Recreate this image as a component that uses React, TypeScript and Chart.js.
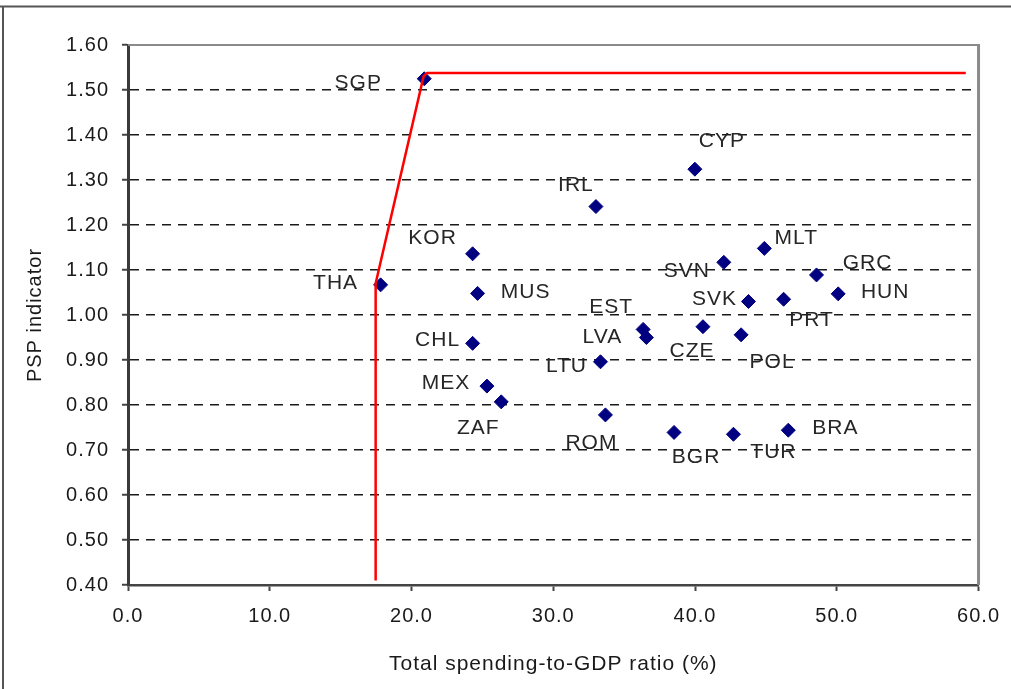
import React, { useEffect, useRef } from 'react';
import { Chart, registerables } from 'chart.js';

Chart.register(...registerables);

// ---- Data ----
const countries = ['SGP', 'THA', 'CYP', 'IRL', 'KOR', 'MUS', 'CHL', 'MEX', 'ZAF', 'LTU', 'ROM', 'BGR', 'EST', 'LVA', 'MLT', 'SVN', 'GRC', 'HUN', 'SVK', 'PRT', 'CZE', 'POL', 'BRA', 'TUR'];
const spendingRatio = [20.9, 17.82, 39.99, 33.01, 24.31, 24.66, 24.31, 25.32, 26.33, 33.33, 33.68, 38.52, 36.34, 36.57, 44.89, 42.03, 48.57, 50.1, 43.77, 46.25, 40.56, 43.25, 46.58, 42.71];
const pspIndicator = [1.525, 1.067, 1.324, 1.241, 1.136, 1.048, 0.937, 0.842, 0.807, 0.896, 0.778, 0.739, 0.968, 0.95, 1.148, 1.117, 1.089, 1.047, 1.03, 1.035, 0.974, 0.956, 0.744, 0.735];

const frontierX = [17.47, 17.47, 20.85, 21.1, 59.1];
const frontierY = [0.41, 1.07, 1.53, 1.538, 1.538];

const xTitle = 'Total spending-to-GDP ratio (%)';
const yTitle = 'PSP indicator';

// label placement (pixel offsets of label centre from marker)
const labelOffsets: Record<string, [number, number]> = {
  SGP: [-66, 4], THA: [-45, -2], CYP: [27, -28], IRL: [-20, -21], KOR: [-40, -16],
  MUS: [48, -1], CHL: [-35, -3], MEX: [-41, -3], ZAF: [-23, 26], LTU: [-34, 4],
  ROM: [-14, 28], BGR: [22, 25], EST: [-32, -22], LVA: [-44, 0], MLT: [32, -10],
  SVN: [-37, 9], GRC: [51, -12], HUN: [47, -2], SVK: [-34, -2], PRT: [28, 21],
  CZE: [-11, 25], POL: [31, 27], BRA: [47, -2], TUR: [40, 18],
};

const FONT = "'Liberation Sans', Arial, Helvetica, sans-serif";
const TEXT = '#1a1a1a';

const spacingPlugin = {
  id: 'spacing',
  beforeDraw(chart: any) {
    chart.ctx.letterSpacing = '1px';
  },
  afterDraw(chart: any) {
    chart.ctx.letterSpacing = '0px';
  },
};

const framePlugin = {
  id: 'frame',
  beforeDatasetsDraw(chart: any) {
    const { ctx, chartArea, width, height } = chart;
    ctx.save();
    ctx.setLineDash([]);
    // outer picture border
    ctx.strokeStyle = '#555555';
    ctx.lineWidth = 2;
    ctx.beginPath();
    ctx.moveTo(0, 6.5);
    ctx.lineTo(width, 6.5);
    ctx.moveTo(3, 6.5);
    ctx.lineTo(3, height);
    ctx.stroke();
    // plot frame top / right
    ctx.strokeStyle = '#8a8a8a';
    ctx.lineWidth = 2;
    ctx.beginPath();
    ctx.moveTo(chartArea.left, chartArea.top);
    ctx.lineTo(chartArea.right, chartArea.top);
    ctx.stroke();
    ctx.lineWidth = 3;
    ctx.beginPath();
    ctx.moveTo(chartArea.right, chartArea.top - 1);
    ctx.lineTo(chartArea.right, chartArea.bottom);
    ctx.stroke();
    ctx.restore();
  },
};

const labelPlugin = {
  id: 'pointLabels',
  afterDatasetsDraw(chart: any) {
    const { ctx } = chart;
    const meta = chart.getDatasetMeta(1);
    ctx.save();
    ctx.font = `21px ${FONT}`;
    ctx.fillStyle = '#262626';
    ctx.textAlign = 'center';
    ctx.textBaseline = 'middle';
    meta.data.forEach((el: any, i: number) => {
      const name = countries[i];
      const off = labelOffsets[name] || [0, -15];
      ctx.fillText(name, el.x + off[0], el.y + off[1]);
    });
    ctx.restore();
  },
};

export default function App() {
  const canvasRef = useRef<HTMLCanvasElement | null>(null);

  useEffect(() => {
    const canvas = canvasRef.current;
    if (!canvas) return;
    const chart = new Chart(canvas, {
      type: 'scatter',
      data: {
        datasets: [
          {
            type: 'line',
            label: 'Frontier',
            data: frontierX.map((x, i) => ({ x, y: frontierY[i] })),
            borderColor: '#ff0000',
            borderWidth: 2.5,
            pointRadius: 0,
            fill: false,
            tension: 0,
            order: 0,
          } as any,
          {
            label: 'Countries',
            data: spendingRatio.map((x, i) => ({ x, y: pspIndicator[i] })),
            pointStyle: 'rectRot',
            pointRadius: 7,
            backgroundColor: '#000080',
            borderColor: '#000080',
            borderWidth: 1,
            order: 1,
          },
        ],
      },
      options: {
        animation: false,
        responsive: false,
        events: [],
        layout: { padding: { left: 0, right: 30, top: 45, bottom: 0 } },
        plugins: {
          legend: { display: false },
          tooltip: { enabled: false },
          title: { display: false },
        },
        scales: {
          x: {
            type: 'linear',
            min: 0,
            max: 60,
            ticks: {
              stepSize: 10,
              callback: (v: any) => Number(v).toFixed(1),
              font: { family: FONT, size: 20 },
              color: TEXT,
              padding: 13,
              maxRotation: 0,
            },
            grid: {
              drawOnChartArea: false,
              drawTicks: true,
              tickLength: 6,
              tickColor: '#444444',
              tickWidth: 2,
            },
            border: { color: '#444444', width: 2.5 },
            title: {
              display: true,
              text: xTitle,
              font: { family: FONT, size: 21 },
              color: TEXT,
              padding: { top: 0, bottom: 12 },
            },
            afterFit: (s: any) => {
              s.height = 104;
            },
          },
          y: {
            type: 'linear',
            min: 0.4,
            max: 1.6,
            ticks: {
              stepSize: 0.1,
              callback: (v: any) => Number(v).toFixed(2),
              font: { family: FONT, size: 20 },
              color: TEXT,
              padding: 13,
            },
            grid: {
              color: (c: any) => {
                const v = c.tick ? c.tick.value : 0;
                return v < 0.45 || v > 1.55 ? 'rgba(0,0,0,0)' : '#1a1a1a';
              },
              lineWidth: 1.5,
              tickLength: 6,
              tickColor: '#444444',
              tickWidth: 2,
            },
            border: { dash: [9, 7], color: '#3a3a3a', width: 3 },
            title: {
              display: true,
              text: yTitle,
              font: { family: FONT, size: 20 },
              color: TEXT,
              padding: { top: 23, bottom: 0 },
            },
            afterFit: (s: any) => {
              s.width = 128;
            },
          },
        },
      },
      plugins: [spacingPlugin, framePlugin, labelPlugin],
    });
    return () => chart.destroy();
  }, []);

  return (
    <div style={{ position: 'absolute', left: 0, top: 0, width: 1011, height: 689, background: '#ffffff' }}>
      <canvas ref={canvasRef} width={1011} height={689} style={{ display: 'block' }} />
    </div>
  );
}
